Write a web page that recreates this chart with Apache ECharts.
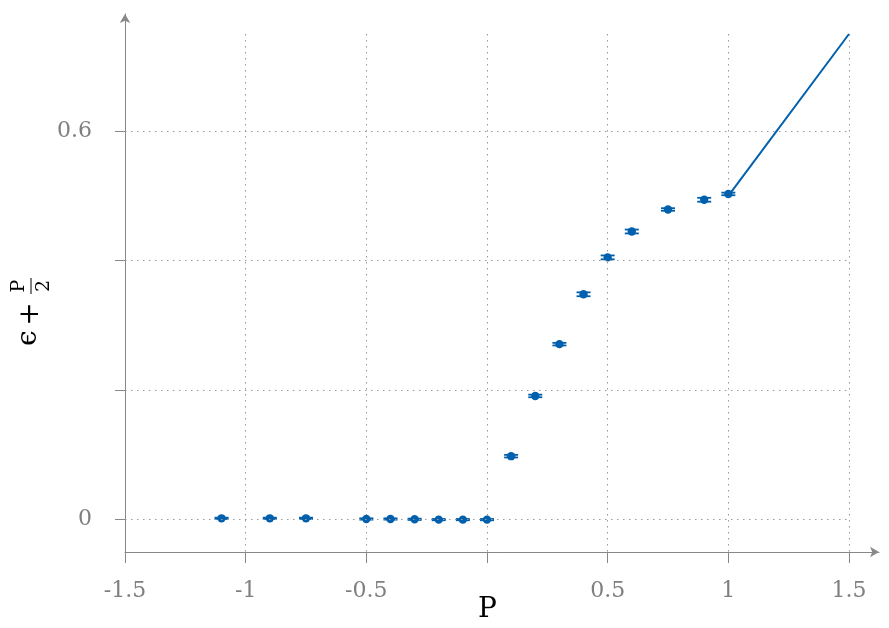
<!DOCTYPE html>
<html lang="en">

<head>
  <meta charset="UTF-8">
  <title>epsilon + P/2</title>
  <script src="https://cdn.jsdelivr.net/npm/echarts@6/dist/echarts.min.js"></script>
  <style>
    html, body { margin: 0; padding: 0; background: #fff; }
    #main { width: 889px; height: 628px; }
  </style>
</head>

<body>
  <div id="main"></div>
</body>
<script>
  // measured points (P, eps + P/2, error)
  let pValues = [-1.1, -0.9, -0.75, -0.5, -0.4, -0.3, -0.2, -0.1, 0, 0.1, 0.2, 0.3, 0.4, 0.5, 0.6, 0.75, 0.9, 1.0]
  let eValues = [0.002, 0.002, 0.002, 0.001, 0.001, 0.0005, 0, 0, 0, 0.098, 0.191, 0.271, 0.348, 0.405, 0.445, 0.479, 0.494, 0.503]
  let errValues = [0.001, 0.001, 0.001, 0.001, 0.001, 0.001, 0.001, 0.001, 0.001, 0.002, 0.002, 0.002, 0.003, 0.003, 0.003, 0.002, 0.003, 0.002]
  // line P/2 for P >= 1
  let lineP = [1, 1.5]
  let lineE = [0.5, 0.75]
  // ticks and labels
  let xLabels = [-1.5, -1, -0.5, 0.5, 1, 1.5]
  let yTicks = [0, 0.2, 0.4, 0.6]
  let yLabels = [0, 0.6]

  let blue = '#0060ad'
  let gray = '#888888'
  let labelColor = '#7f7f7f'
  let serif = 'DejaVu Serif'
  let gridLine = { color: '#999', width: 1, type: [1.5, 4.5] }

  initChart()

  function initChart() {
    let myChart = echarts.init(document.getElementById('main'));
    let points = pValues.map((p, i) => [p, eValues[i], errValues[i]])
    let option = {
      animation: false,
      grid: [
        // outer grid: only the arrowed axis lines
        { left: 125, right: 10, top: 14, bottom: 76 },
        // inner grid: data, ticks, labels, grid lines
        { left: 125, right: 40, top: 34, bottom: 76 }
      ],
      xAxis: [{
        gridIndex: 0, type: 'value', min: -1.5, max: 1.624,
        axisLine: { show: true, onZero: false, lineStyle: { color: gray }, symbol: ['none', 'arrow'], symbolSize: [8, 9] },
        axisTick: { show: false }, axisLabel: { show: false }, splitLine: { show: false }
      }, {
        gridIndex: 1, type: 'value', min: -1.5, max: 1.5, interval: 0.5,
        axisLine: { show: false, onZero: false },
        axisTick: { show: true, length: 11, lineStyle: { color: gray } },
        axisLabel: { customValues: xLabels, color: labelColor, fontFamily: serif, fontSize: 22, margin: 28 },
        splitLine: { show: true, lineStyle: gridLine }
      }],
      yAxis: [{
        gridIndex: 0, type: 'value', min: -0.05, max: 0.781,
        axisLine: { show: true, onZero: false, lineStyle: { color: gray }, symbol: ['none', 'arrow'], symbolSize: [8, 9] },
        axisTick: { show: false }, axisLabel: { show: false }, splitLine: { show: false }
      }, {
        gridIndex: 1, type: 'value', min: -0.05, max: 0.75,
        axisLine: { show: false, onZero: false },
        axisTick: { show: true, customValues: yTicks, length: 10, lineStyle: { color: gray } },
        axisLabel: { customValues: yLabels, color: labelColor, fontFamily: serif, fontSize: 22, margin: 33 },
        splitLine: { show: false }
      }],
      graphic: [{
        type: 'text', left: 478, top: 596,
        style: { text: 'P', fontFamily: serif, fontSize: 28, fill: '#000' }
      }, {
        type: 'group', x: 32, y: 310, rotation: Math.PI / 2,
        children: [
          { type: 'text', x: -36, y: -3, style: { text: 'ϵ', fontFamily: serif, fontSize: 28, fill: '#000', verticalAlign: 'middle', align: 'left' } },
          { type: 'text', x: -4, y: -1, style: { text: '+', fontFamily: serif, fontSize: 28, fill: '#000', verticalAlign: 'middle', align: 'center' } },
          { type: 'line', shape: { x1: 16, y1: -1, x2: 32, y2: -1 }, style: { stroke: '#000', lineWidth: 1 } },
          { type: 'text', x: 24, y: -12.5, style: { text: 'P', fontFamily: serif, fontSize: 19, fill: '#000', verticalAlign: 'middle', align: 'center' } },
          { type: 'text', x: 24, y: 12, style: { text: '2', fontFamily: serif, fontSize: 19, fill: '#000', verticalAlign: 'middle', align: 'center' } }
        ]
      }],
      series: [{
        type: 'line',
        xAxisIndex: 1, yAxisIndex: 1,
        data: lineP.map((p, i) => [p, lineE[i]]),
        showSymbol: false,
        lineStyle: { color: blue, width: 2 },
        markLine: {
          silent: true, symbol: 'none', label: { show: false },
          lineStyle: gridLine,
          data: yTicks.map(v => ({ yAxis: v }))
        },
        z: 3
      }, {
        type: 'custom',
        xAxisIndex: 1, yAxisIndex: 1,
        data: points,
        renderItem: function (params, api) {
          let x = api.value(0), y = api.value(1), e = api.value(2)
          let c = api.coord([x, y])
          let top = api.coord([x, y + e])[1]
          let bot = api.coord([x, y - e])[1]
          let hw = 7
          let st = { stroke: blue, lineWidth: 1.8 }
          return {
            type: 'group',
            children: [
              { type: 'line', shape: { x1: c[0] - hw, y1: top, x2: c[0] + hw, y2: top }, style: st },
              { type: 'line', shape: { x1: c[0] - hw, y1: bot, x2: c[0] + hw, y2: bot }, style: st },
              { type: 'line', shape: { x1: c[0], y1: top, x2: c[0], y2: bot }, style: st },
              { type: 'circle', shape: { cx: c[0], cy: c[1], r: 4.2 }, style: { fill: blue } }
            ]
          }
        },
        z: 4
      }]
    }
    myChart.setOption(option);
  }
</script>

</html>
